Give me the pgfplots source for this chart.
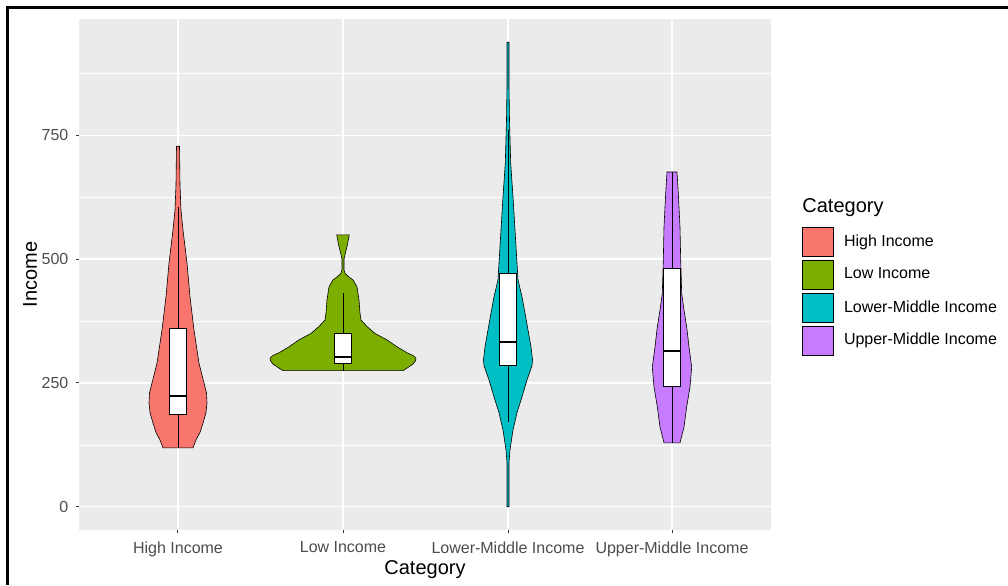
\documentclass[border=0pt]{standalone}
\usepackage{pgfplots}
\pgfplotsset{compat=1.18}
\usepackage{fontspec}
\setmainfont{Liberation Sans}
\definecolor{hi}{HTML}{F8766D}
\definecolor{lo}{HTML}{7CAE00}
\definecolor{lm}{HTML}{00BFC4}
\definecolor{um}{HTML}{C77CFF}
\definecolor{panel}{HTML}{EBEBEB}
\definecolor{tickcol}{HTML}{4D4D4D}
\definecolor{tickmark}{HTML}{333333}
\begin{document}
\begin{tikzpicture}
\useasboundingbox (-39.5pt,-27.5pt) rectangle (464.5pt,265pt);
\fill[white] (-39.5pt,-27.5pt) rectangle (464.5pt,265pt);
\draw[black, line width=1.1pt] (-35.75pt,-27.5pt) -- (-35.75pt,261.25pt) -- (464.5pt,261.25pt);
\begin{axis}[
  at={(0pt,0pt)}, anchor=south west,
  scale only axis, width=346pt, height=255.5pt,
  xmin=79, xmax=771, ymin=-46.9, ymax=984.9,
  clip mode=individual,
  axis background/.style={fill=panel},
  axis line style={draw=none},
  xtick={178,343,508,672},
  xticklabels={High Income, Low Income, Lower-Middle Income, Upper-Middle Income},
  ytick={0,250,500,750},
  minor ytick={125,375,625,875},
  xtick pos=bottom, ytick pos=left,
  grid=both,
  major grid style={white, line width=0.7pt},
  minor grid style={white, line width=0.35pt},
  tick align=outside, major tick length=1.6pt, minor tick length=0pt,
  tick style={tickmark, line width=0.5pt},
  /pgf/number format/assume math mode=true,
  ticklabel style={font=\fontsize{8}{9}\selectfont, color=tickcol, inner sep=0pt},
  yticklabel style={anchor=east, xshift=-3.5pt},
  xticklabel style={anchor=north, yshift=-4pt},
  xlabel={Category}, ylabel={Income},
  label style={font=\fontsize{10}{12}\selectfont, color=black},
  every axis x label/.style={at={(axis description cs:0.5,-0.0783)}, anchor=center},
  every axis y label/.style={at={(axis description cs:-0.0708,0.5)}, anchor=center, rotate=90},
  legend style={at={(axis description cs:1.0448,0.593)}, anchor=north west,
    draw=none, fill=none, inner sep=0pt, row sep=1.6pt,
    font=\fontsize{8}{9}\selectfont, nodes={inner sep=0pt},
    /tikz/every odd column/.append style={column sep=5pt}},
  legend cell align=left,
  legend image code/.code={\draw[#1] (0pt,-7.25pt) rectangle (15.5pt,7.25pt);},
]
% Violins
\addplot[fill=hi, draw=black, line width=0.3pt] coordinates {
(193,119) (196,135) (200,150) (203,169) (206,190) (207,210) (206.5,230) (204,250) (199,290) (194,357) (190,424) (187,492) (183,559) (181,599) (180,650) (179.5,728)
(176.5,728) (176,650) (175,599) (173,559) (169,492) (166,424) (162,357) (157,290) (152,250) (149.5,230) (149,210) (150,190) (153,169) (156,150) (160,135) (163,119)
} -- cycle;
\addlegendentry{High Income}
\addplot[fill=lo, draw=black, line width=0.3pt] coordinates {
(403,275) (407,280) (413,288) (415.5,295) (416,300) (413.5,305) (407,311) (397,323) (387,337) (375,350) (367,364) (361,377) (360,391) (359,418) (357,444) (353,458) (349,464) (345.5,470) (344,478) (344,500) (345.3,512) (347.5,530) (349.3,549)
(336.7,549) (338.5,530) (340.7,512) (342,500) (342,478) (340.5,470) (337,464) (333,458) (329,444) (327,418) (326,391) (325,377) (319,364) (311,350) (299,337) (289,323) (279,311) (272.5,305) (270,300) (270.5,295) (273,288) (279,280) (283,275)
} -- cycle;
\addlegendentry{Low Income}
\addplot[fill=lm, draw=black, line width=0.3pt] coordinates {
(509,0) (509,89) (510,115) (513,155) (517,190) (522,222) (527,256) (532,285) (532.5,297) (531,323) (528,357) (525,391) (522,424) (518,458) (517,492) (515,559) (513,626) (510.7,694) (509.5,781) (509,850) (509,938)
(507,938) (507,850) (506.5,781) (505.3,694) (503,626) (501,559) (499,492) (498,458) (494,424) (491,391) (488,357) (485,323) (483.5,297) (484,285) (489,256) (494,222) (499,190) (503,155) (506,115) (507,89) (507,0)
} -- cycle;
\addlegendentry{Lower-Middle Income}
\addplot[fill=um, draw=black, line width=0.3pt] coordinates {
(680,129) (684,161) (686.7,202) (690,242) (691.7,282) (689,323) (686.7,363) (684,397) (681.7,431) (680.7,498) (680,565) (678.3,633) (677,676)
(667,676) (665.7,633) (664,565) (663.3,498) (662.3,431) (660,397) (657.3,363) (655,323) (652.3,282) (654,242) (657.3,202) (660,161) (664,129)
} -- cycle;
\addlegendentry{Upper-Middle Income}
% Whiskers
\addplot[black, line width=0.3pt, forget plot] coordinates {(178,119) (178,605)};
\addplot[black, line width=0.3pt, forget plot] coordinates {(343,275) (343,431)};
\addplot[black, line width=0.3pt, forget plot] coordinates {(508,171) (508,760)};
\addplot[black, line width=0.3pt, forget plot] coordinates {(672,129) (672,676)};
% Boxes
\addplot[fill=white, draw=black, line width=0.5pt, forget plot] coordinates {(169.5,186) (186.5,186) (186.5,359) (169.5,359)} -- cycle;
\addplot[fill=white, draw=black, line width=0.5pt, forget plot] coordinates {(334.5,290) (351.5,290) (351.5,349) (334.5,349)} -- cycle;
\addplot[fill=white, draw=black, line width=0.5pt, forget plot] coordinates {(499.5,286) (516.5,286) (516.5,472) (499.5,472)} -- cycle;
\addplot[fill=white, draw=black, line width=0.5pt, forget plot] coordinates {(663.5,242) (680.5,242) (680.5,482) (663.5,482)} -- cycle;
% Medians
\addplot[black, line width=1.2pt, forget plot] coordinates {(169.5,224) (186.5,224)};
\addplot[black, line width=1.2pt, forget plot] coordinates {(334.5,303) (351.5,303)};
\addplot[black, line width=1.2pt, forget plot] coordinates {(499.5,333) (516.5,333)};
\addplot[black, line width=1.2pt, forget plot] coordinates {(663.5,315) (680.5,315)};
\node[anchor=base west, inner sep=0pt, font=\fontsize{10}{12}\selectfont] at (axis description cs:1.0448,0.6223) {Category};
\end{axis}
\end{tikzpicture}
\end{document}
